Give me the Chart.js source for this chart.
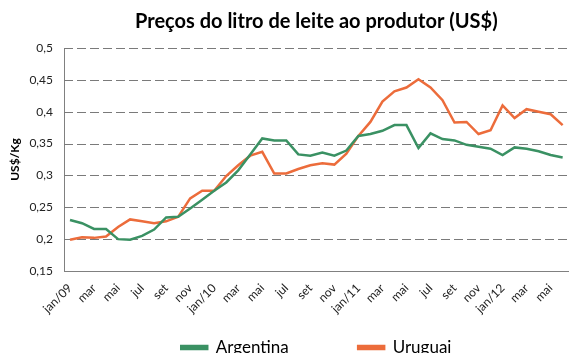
<!DOCTYPE html>
<html>
<head>
<meta charset="utf-8">
<script src="https://cdn.jsdelivr.net/npm/chart.js@4.4.1/dist/chart.umd.min.js"></script>
<style>
    html, body { margin: 0; padding: 0; background: #fff; overflow: hidden; }
    #wrap { position: relative; width: 583px; height: 366px; }
</style>
</head>
<body>
<div id="wrap"><canvas id="chart"></canvas></div>
<script>
// meses jan/09 .. jun/12
const months = [
    'jan/09','fev','mar','abr','mai','jun','jul','ago','set','out','nov','dez',
    'jan/10','fev','mar','abr','mai','jun','jul','ago','set','out','nov','dez',
    'jan/11','fev','mar','abr','mai','jun','jul','ago','set','out','nov','dez',
    'jan/12','fev','mar','abr','mai','jun'
];

const argentina = [
    0.230, 0.225, 0.216, 0.216, 0.200, 0.199, 0.205, 0.215, 0.234, 0.235, 0.248, 0.262,
    0.276, 0.289, 0.308, 0.333, 0.358, 0.355, 0.355, 0.333, 0.331, 0.336, 0.331, 0.339,
    0.362, 0.365, 0.370, 0.379, 0.379, 0.343, 0.366, 0.357, 0.355, 0.348, 0.345, 0.342,
    0.332, 0.344, 0.342, 0.338, 0.332, 0.328
];

const uruguai = [
    0.199, 0.203, 0.202, 0.204, 0.219, 0.231, 0.228, 0.225, 0.228, 0.235, 0.264, 0.276,
    0.276, 0.299, 0.316, 0.331, 0.337, 0.303, 0.303, 0.310, 0.316, 0.319, 0.317, 0.334,
    0.362, 0.384, 0.416, 0.432, 0.438, 0.451, 0.438, 0.418, 0.383, 0.384, 0.365, 0.371,
    0.410, 0.390, 0.404, 0.400, 0.396, 0.379
];

const yMin = 0.15, yMax = 0.5, yStep = 0.05;

const FONT = 'Lato, "Open Sans", sans-serif';
const GREEN = '#3a9163';
const ORANGE = '#ec6c3b';
const AXIS = '#808080';
const GRID = '#7a7a7a';

// dashed horizontal grid, one line per y tick (Excel style)
const dashedGrid = {
    id: 'dashedGrid',
    beforeDatasetsDraw(chart) {
        const { ctx, chartArea, scales: { y } } = chart;
        ctx.save();
        ctx.strokeStyle = GRID;
        ctx.lineWidth = 1;
        ctx.setLineDash([9, 4]);
        y.ticks.forEach(t => {
            if (t.value <= yMin + 0.001) return;
            const py = Math.round(y.getPixelForValue(t.value)) + 0.5;
            ctx.beginPath();
            ctx.moveTo(chartArea.left, py);
            ctx.lineTo(chartArea.right, py);
            ctx.stroke();
        });
        ctx.restore();
    }
};

new Chart(document.getElementById('chart'), {
    type: 'line',
    data: {
        labels: months,
        datasets: [
            { label: 'Argentina', data: argentina, borderColor: GREEN, backgroundColor: GREEN,
              borderWidth: 2.5, pointRadius: 0, tension: 0 },
            { label: 'Uruguai', data: uruguai, borderColor: ORANGE, backgroundColor: ORANGE,
              borderWidth: 2.5, pointRadius: 0, tension: 0 }
        ]
    },
    options: {
        responsive: true,
        maintainAspectRatio: false,
        animation: false,
        layout: { padding: { left: 0, right: 12, top: 0, bottom: 0 } },
        plugins: {
            title: {
                display: true,
                text: 'Preços do litro de leite ao produtor (US$)',
                color: '#000',
                fullSize: false,
                font: { family: FONT, size: 20, weight: 'bold' },
                padding: { top: 10, bottom: 14 }
            },
            legend: {
                position: 'bottom',
                fullSize: false,
                labels: {
                    color: '#000',
                    font: { family: FONT, size: 17 },
                    boxWidth: 26,
                    boxHeight: 3,
                    padding: 10,
                    generateLabels(chart) {
                        const items = Chart.defaults.plugins.legend.labels.generateLabels(chart);
                        // wide gap after the first entry, like the original
                        items[0].text = items[0].text + '\u2003\u2003\u2003\u2003\u2002';
                        return items;
                    }
                }
            },
            tooltip: { enabled: false }
        },
        scales: {
            x: {
                offset: true,
                grid: { display: false, drawTicks: false },
                border: { display: true, color: AXIS, width: 1 },
                ticks: {
                    autoSkip: false,
                    maxRotation: 45,
                    minRotation: 45,
                    padding: 10,
                    color: '#222',
                    font: { family: FONT, size: 12 },
                    callback(val, idx) {
                        return idx % 2 === 0 ? this.getLabelForValue(val) : '';
                    }
                },
                afterFit(scale) { scale.height = 58; }
            },
            y: {
                min: yMin,
                max: yMax,
                ticks: {
                    stepSize: yStep,
                    padding: 11,
                    color: '#222',
                    font: { family: FONT, size: 12 },
                    callback: v => String(Number(v.toFixed(2))).replace('.', ',')
                },
                grid: { display: false, drawTicks: false },
                border: { display: true, color: AXIS, width: 1 },
                title: {
                    display: true,
                    text: 'US$/Kg',
                    color: '#000',
                    font: { family: FONT, size: 12, weight: 'bold' },
                    padding: { top: 8, bottom: 0 }
                },
                afterFit(scale) { scale.width = 64; }
            }
        }
    },
    plugins: [dashedGrid]
});
</script>
</body>
</html>
